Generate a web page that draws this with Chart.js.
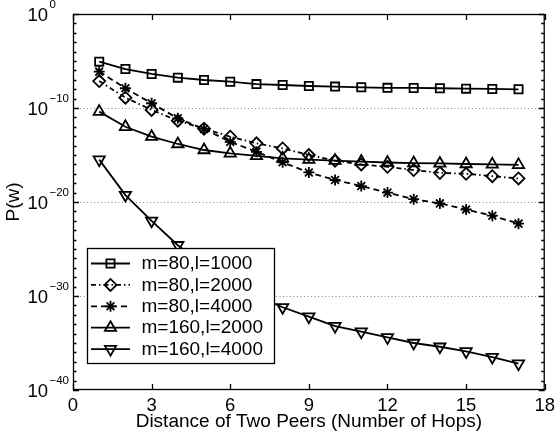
<!DOCTYPE html>
<html><head><meta charset="utf-8">
<script src="https://cdn.jsdelivr.net/npm/chart.js@4/dist/chart.umd.min.js"></script>
<style>html,body{margin:0;padding:0;background:#fff}</style>
</head><body>
<canvas id="c" width="560" height="439" style="display:block;width:560px;height:439px"></canvas>
<script>
// ---- data ----
const hops = [1,2,3,4,5,6,7,8,9,10,11,12,13,14,15,16,17];
const seriesNames = ['m=80,l=1000','m=80,l=2000','m=80,l=4000','m=160,l=2000','m=160,l=4000'];
const pM80L1000 = [8.5e-6,1.4e-6,4.2e-7,1.7e-7,9.5e-8,6.3e-8,3.5e-8,2.8e-8,2.2e-8,1.9e-8,1.6e-8,1.4e-8,1.35e-8,1.26e-8,1.15e-8,1.07e-8,9.8e-9];
const pM80L2000 = [7.4e-8,1.26e-9,6.3e-11,4.5e-12,6.3e-13,8.9e-14,1.74e-14,5.0e-15,1.0e-15,2.5e-16,1.0e-16,5.6e-17,2.5e-17,1.26e-17,1.0e-17,5.6e-18,3.2e-18];
const pM80L4000 = [7.4e-7,1.26e-8,3.2e-10,7.9e-12,5.9e-13,2.5e-14,2.2e-15,1.66e-16,1.4e-17,2.2e-18,5.0e-19,1.0e-19,2.0e-20,7.1e-21,1.6e-21,3.5e-22,5.0e-23];
const pM160L2000 = [4.1e-11,1.0e-12,8.9e-14,1.48e-14,3.4e-15,1.5e-15,7.9e-16,4.4e-16,3.2e-16,2.5e-16,2.0e-16,1.6e-16,1.4e-16,1.26e-16,1.1e-16,1.0e-16,8.9e-17];
const pM160L4000 = [3.2e-16,5.5e-20,1.0e-22,2.5e-25,1.6e-27,2.5e-29,1.0e-30,6.3e-32,6.3e-33,6.3e-34,1.6e-34,4.0e-35,1.0e-35,4.0e-36,1.26e-36,3.2e-37,6.3e-38];
const xTicks = [0,3,6,9,12,15,18];
const yMajorExponents = [0,-10,-20,-30,-40];
const yMinorExponents = [-1,-2,-3,-4,-5,-6,-7,-8,-9,-11,-12,-13,-14,-15,-16,-17,-18,-19,-21,-22,-23,-24,-25,-26,-27,-28,-29,-31,-32,-33,-34,-35,-36,-37,-38,-39];
const gridExponents = [-10,-20,-30];
const xTitle = 'Distance of Two Peers (Number of Hops)';
const yTitle = 'P(w)';

const FONT = "'Liberation Sans', Arial, Helvetica, sans-serif";
const styles = [
  {pointStyle:'rect', radius:5.8, rotation:0, dash:[]},
  {pointStyle:'rectRot', radius:6, rotation:0, dash:[5,3,1.5,3]},
  {pointStyle:'star', radius:5.5, rotation:0, dash:[6,4]},
  {pointStyle:'triangle', radius:6.5, rotation:0, dash:[]},
  {pointStyle:'triangle', radius:6.5, rotation:180, dash:[]}
];
const seriesData = [pM80L1000,pM80L2000,pM80L4000,pM160L2000,pM160L4000];

const datasets = seriesData.map((arr,i)=>({
  label: seriesNames[i],
  data: hops.map((h,j)=>({x:h, y:arr[j]})),
  borderColor:'#000', borderWidth:1.8, borderDash:styles[i].dash,
  pointStyle:styles[i].pointStyle, pointRadius:styles[i].radius, pointRotation:styles[i].rotation,
  pointBorderColor:'#000', pointBackgroundColor:'rgba(0,0,0,0)', pointBorderWidth:1.8,
  fill:false, tension:0
}));

const framePlugin = {
  id:'frame',
  beforeDatasetsDraw(chart){
    const {ctx, chartArea:a, scales:{y}} = chart;
    ctx.save();
    ctx.strokeStyle = '#8c8c8c'; ctx.lineWidth = 1; ctx.setLineDash([1,2.5]);
    gridExponents.forEach(e=>{
      const py = Math.round(y.getPixelForValue(Math.pow(10,e)))+0.5;
      ctx.beginPath(); ctx.moveTo(a.left, py); ctx.lineTo(a.right, py); ctx.stroke();
    });
    ctx.restore();
  },
  afterDatasetsDraw(chart){
    const {ctx, chartArea:a, scales:{x,y}} = chart;
    ctx.save();
    ctx.strokeStyle = '#000'; ctx.lineWidth = 1.3; ctx.setLineDash([]);
    ctx.strokeRect(a.left+0.5, a.top+0.5, a.right-a.left-1, a.bottom-a.top-1);
    ctx.beginPath();
    xTicks.forEach(v=>{
      const px = Math.round(x.getPixelForValue(v))+0.5;
      ctx.moveTo(px, a.bottom); ctx.lineTo(px, a.bottom-6);
      ctx.moveTo(px, a.top); ctx.lineTo(px, a.top+6);
    });
    const tick = (e,len)=>{
      const py = Math.round(y.getPixelForValue(Math.pow(10,e)))+0.5;
      ctx.moveTo(a.left, py); ctx.lineTo(a.left+len, py);
      ctx.moveTo(a.right, py); ctx.lineTo(a.right-len, py);
    };
    yMajorExponents.forEach(e=>tick(e,6));
    yMinorExponents.forEach(e=>tick(e,3.5));
    ctx.stroke();
    // y tick labels with superscript exponents
    ctx.fillStyle = '#000';
    yMajorExponents.forEach(e=>{
      const py = y.getPixelForValue(Math.pow(10,e));
      ctx.font = '18.5px ' + FONT; ctx.textAlign='left'; ctx.textBaseline='alphabetic';
      ctx.fillText('10', 27.5, py+6.8);
      ctx.font = '11.5px ' + FONT;
      ctx.fillText(e===0 ? '0' : '\u2212'+String(-e), 49.5, py-6.3);
    });
    // legend
    const lx = 87.5, ly = 248.5, lw = 187, lh = 115;
    ctx.fillStyle = '#fff'; ctx.fillRect(lx, ly, lw, lh);
    ctx.lineWidth = 1.3; ctx.strokeStyle = '#000'; ctx.strokeRect(lx, ly, lw, lh);
    seriesNames.forEach((name,i)=>{
      const ry = 263.5 + i*21.4;
      ctx.lineWidth = 1.8; ctx.strokeStyle = '#000';
      ctx.setLineDash(styles[i].dash);
      ctx.beginPath(); ctx.moveTo(91, ry); ctx.lineTo(130, ry); ctx.stroke();
      ctx.setLineDash([]);
      ctx.fillStyle = 'rgba(0,0,0,0)';
      Chart.helpers.drawPoint(ctx, {pointStyle:styles[i].pointStyle, radius:styles[i].radius, rotation:styles[i].rotation, borderWidth:1.8}, 110.5, ry);
      ctx.fillStyle = '#000';
      ctx.font = '19px ' + FONT; ctx.textAlign='left'; ctx.textBaseline='middle';
      ctx.fillText(name, 141.5, ry+0.5);
    });
    ctx.restore();
  }
};

new Chart(document.getElementById('c'), {
  type:'line',
  data:{datasets},
  options:{
    responsive:false, animation:false, events:[],
    layout:{padding:{top:14, right:10, left:0, bottom:0}},
    plugins:{legend:{display:false}, tooltip:{enabled:false}},
    scales:{
      x:{type:'linear', min:0, max:18,
        afterBuildTicks:s=>{ s.ticks = xTicks.map(v=>({value:v})); },
        ticks:{font:{family:FONT,size:18.5}, color:'#000', padding:5, maxRotation:0, autoSkip:false},
        grid:{display:false, drawTicks:false}, border:{display:false},
        title:{display:true, text:xTitle, color:'#000', font:{family:FONT,size:19}, padding:{top:0,bottom:6}},
        afterFit:s=>{ s.height = 49; }
      },
      y:{type:'logarithmic', min:1e-40, max:1,
        ticks:{display:false},
        grid:{display:false, drawTicks:false}, border:{display:false},
        title:{display:true, text:yTitle, color:'#000', font:{family:FONT,size:19}, padding:{top:2,bottom:0}},
        afterFit:s=>{ s.width = 73; }
      }
    }
  },
  plugins:[framePlugin]
});
</script>
</body></html>
